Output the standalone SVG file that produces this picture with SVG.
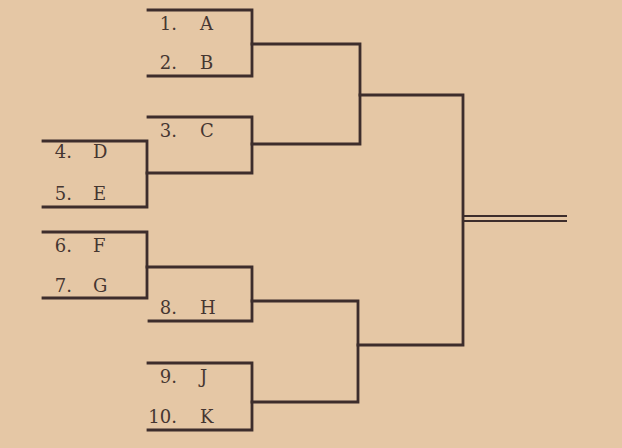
<svg xmlns="http://www.w3.org/2000/svg" width="622" height="448" viewBox="0 0 622 448">
<style>
.bg{fill:#e5c7a5}
.ln{fill:none;stroke:#3d2d2c;stroke-width:2.8;stroke-linecap:square;stroke-linejoin:miter}
.dl{fill:none;stroke:#3d2d2c;stroke-width:2.2}
text{font-family:"DejaVu Serif","Liberation Serif",serif;font-size:18px;fill:#453631}
.n{text-anchor:end}
</style>
<rect class="bg" x="0" y="0" width="622" height="448"/>
<g id="connectors">
<path class="ln" d="M148,10 H252 V76 H148"/>
<path class="ln" d="M148,117 H252 V173 H147"/>
<path class="ln" d="M43,141 H147 V207 H43"/>
<path class="ln" d="M43,232 H147 V298 H43"/>
<path class="ln" d="M147,267 H252 V321 H149"/>
<path class="ln" d="M148,363 H252 V430 H148"/>
<path class="ln" d="M252,44 H360 V144 H252"/>
<path class="ln" d="M252,301 H358 V402 H252"/>
<path class="ln" d="M360,95 H463 V345 H358"/>
<path class="dl" d="M463,216 H567 M463,221 H567"/>
</g>
<g id="n1"><text class="n" x="177" y="30">1.</text><text x="200" y="30">A</text></g>
<g id="n2"><text class="n" x="177" y="69">2.</text><text x="200" y="69">B</text></g>
<g id="n3"><text class="n" x="177" y="137">3.</text><text x="200" y="137">C</text></g>
<g id="n4"><text class="n" x="72" y="158">4.</text><text x="93" y="158">D</text></g>
<g id="n5"><text class="n" x="72" y="200">5.</text><text x="93" y="200">E</text></g>
<g id="n6"><text class="n" x="72" y="252">6.</text><text x="93" y="252">F</text></g>
<g id="n7"><text class="n" x="72" y="292">7.</text><text x="93" y="292">G</text></g>
<g id="n8"><text class="n" x="177" y="314">8.</text><text x="200" y="314">H</text></g>
<g id="n9"><text class="n" x="177" y="383">9.</text><text x="200" y="383">J</text></g>
<g id="n10"><text class="n" x="177" y="423">10.</text><text x="200" y="423">K</text></g>
</svg>
